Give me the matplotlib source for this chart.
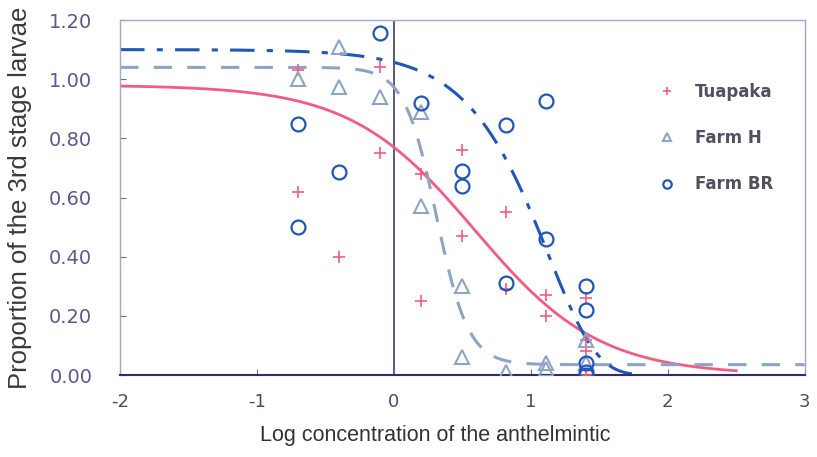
import numpy as np
import matplotlib
matplotlib.use("Agg")
import matplotlib.pyplot as plt

plt.rcParams["font.family"] = ["Liberation Sans", "DejaVu Sans"]

# observed proportions (log concentration, proportion)
tua_x = [-0.7, -0.7, -0.4, -0.1, -0.1, 0.2, 0.2, 0.5, 0.5, 0.82, 0.82,
         1.11, 1.11, 1.4, 1.4, 1.4, 1.4]
tua_y = [0.62, 1.03, 0.40, 0.75, 1.04, 0.68, 0.25, 0.76, 0.47, 0.55, 0.29,
         0.27, 0.20, 0.26, 0.12, 0.08, 0.00]

farmh_x = [-0.7, -0.4, -0.4, -0.1, 0.2, 0.2, 0.5, 0.5, 0.82, 1.11, 1.11,
           1.4, 1.4]
farmh_y = [1.00, 1.11, 0.975, 0.94, 0.89, 0.57, 0.30, 0.06, 0.01, 0.02, 0.04,
           0.12, 0.04]

farmbr_x = [-0.7, -0.7, -0.4, -0.1, 0.2, 0.5, 0.5, 0.82, 0.82, 1.11, 1.11,
            1.4, 1.4, 1.4, 1.4, 1.4]
farmbr_y = [0.85, 0.50, 0.685, 1.155, 0.92, 0.69, 0.64, 0.845, 0.31, 0.925, 0.46,
            0.30, 0.22, 0.04, 0.01, 0.00]

# fitted dose-response curves: parameters
tua_fit = dict(top=0.98, bottom=0.0, slope=2.2, mid=0.59, xmax=2.5)
farmh_fit = dict(top=1.04, bottom=0.035, slope=8.5, mid=0.31, xmax=3.0)
farmbr_fit = dict(top=1.10, slope=2.85, mid=1.13, xmax=1.8)

xticks = [-2, -1, 0, 1, 2, 3]
yticks = [0.0, 0.2, 0.4, 0.6, 0.8, 1.0, 1.2]

pink = "#f25c82"
grey_blue = "#8ea4c6"
blue = "#1f56b8"


def logistic(x, p):
    return p["bottom"] + (p["top"] - p["bottom"]) / (1 + np.exp(p["slope"] * (x - p["mid"])))


def gompertz(x, p):
    return p["top"] * np.exp(-np.exp(p["slope"] * (x - p["mid"])))


fig = plt.figure(figsize=(8.17, 4.57), dpi=100)
ax = fig.add_axes([0.147, 0.1794, 0.838, 0.7768])

xs = np.linspace(-2, tua_fit["xmax"], 300)
ax.plot(xs, logistic(xs, tua_fit), color=pink, lw=2, zorder=2)
xs = np.linspace(-2, farmh_fit["xmax"], 300)
ax.plot(xs, logistic(xs, farmh_fit), color=grey_blue, lw=2.2,
        dashes=(6, 5), zorder=2)
xs = np.linspace(-2, farmbr_fit["xmax"], 300)
ax.plot(xs, gompertz(xs, farmbr_fit), color=blue, lw=2.2,
        dashes=(8, 4, 2, 4), zorder=2)

ax.plot(tua_x, tua_y, "+", color=pink, ms=9, mew=1.2, ls="none", label="Tuapaka", zorder=3)
ax.plot(farmh_x, farmh_y, "^", color=grey_blue, mfc="none", ms=10, mew=1.5,
        ls="none", label="Farm H", zorder=3)
ax.plot(farmbr_x, farmbr_y, "o", color=blue, mfc="none", ms=10, mew=1.6,
        ls="none", label="Farm BR", zorder=3)

ax.axvline(0, color="#3b3b78", lw=1.2, zorder=1)

ax.set_xlim(-2, 3)
ax.set_ylim(0, 1.2)
ax.set_xticks(xticks)
ax.set_xticklabels([str(t) for t in xticks], family="DejaVu Sans")
ax.set_yticks(yticks)
ax.set_yticklabels([f"{t:.2f}" for t in yticks], family="DejaVu Sans")
ax.tick_params(direction="in", length=4, color="#6a6a9a")
ax.tick_params(axis="y", labelsize=14, labelcolor="#5a5a8c", pad=20)
ax.tick_params(axis="x", labelsize=13, labelcolor="#4a4a70", pad=13)

for s in ["top", "right", "left"]:
    ax.spines[s].set_color("#a6a6cc")
    ax.spines[s].set_linewidth(1)
ax.spines["bottom"].set_color("#2e2e6a")
ax.spines["bottom"].set_linewidth(1.5)

ax.set_xlabel("Log concentration of the anthelmintic", fontsize=15.5, color="#333333")
ax.xaxis.set_label_coords(0.46, -0.14)
ax.set_ylabel("Proportion of the 3rd stage larvae", fontsize=18.5, color="#3a3a3a")
ax.yaxis.set_label_coords(-0.128, 0.5)

leg = ax.legend(loc="upper left", bbox_to_anchor=(0.774, 0.842), frameon=False,
                prop={"family": "DejaVu Sans", "weight": "bold", "size": 12},
                markerscale=0.6, handlelength=1.2, labelspacing=1.7,
                handletextpad=1.08, borderaxespad=0)
for t in leg.get_texts():
    t.set_color("#50505e")

fig.savefig("out.png", dpi=100)
